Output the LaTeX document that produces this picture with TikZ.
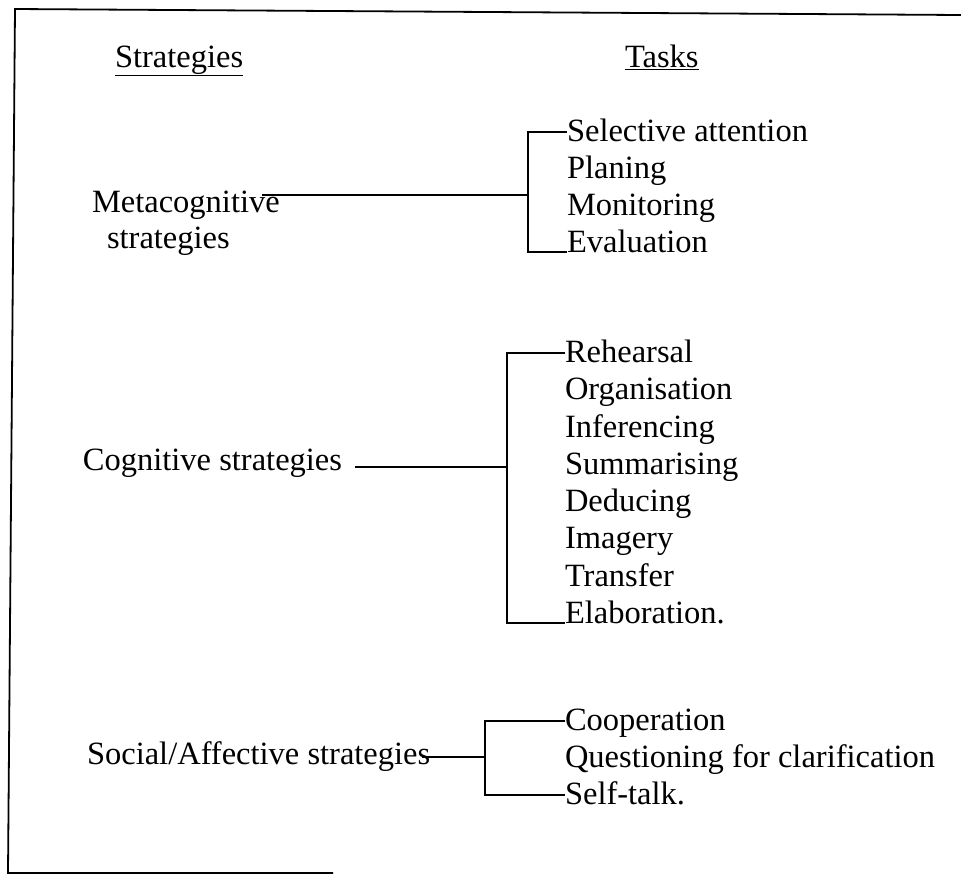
\documentclass[tikz,border=0pt]{standalone}
\usepackage{fontspec}
\setmainfont{Liberation Serif}
\begin{document}
\begin{tikzpicture}[x=1pt,y=-1pt,
  txt/.style={inner sep=0pt,outer sep=0pt,font=\fontsize{32.5}{36}\selectfont},
  task/.style={txt,anchor=base west},
  frameline/.style={line width=1.8pt},
  link/.style={line width=1.4pt}]
\useasboundingbox (0,0) rectangle (961,879);

% open frame round the table
\draw[frameline] (961,15) -- (15,9) -- (8,873) -- (333,873);

% column heads
\node[txt,anchor=base west] (hs) at (115,67) {\underline{Strategies}};
\node[txt,anchor=base west] (ht) at (625,67) {\underline{Tasks}};

% metacognitive strategies
\node[txt,anchor=base west,align=left] (meta) at (92,248)
  {Metacognitive\\\hspace*{15pt}strategies};
\node[task] (t11) at (567,141) {Selective attention};
\node[task] (t12) at (567,178) {Planing};
\node[task] (t13) at (567,215) {Monitoring};
\node[task] (t14) at (567,252) {Evaluation};
\coordinate (m0) at (262,195);
\coordinate (m1) at (528,195);
\draw[link] (m0) -- (m1);
\draw[link] (t11.west |- 0,132) -| (m1) |- (t14.base west);

% cognitive strategies
\node[txt,anchor=base east] (cog) at (342,470) {Cognitive strategies};
\node[task] (t21) at (565,362) {Rehearsal};
\node[task] (t22) at (565,399) {Organisation};
\node[task] (t23) at (565,437) {Inferencing};
\node[task] (t24) at (565,474) {Summarising};
\node[task] (t25) at (565,511) {Deducing};
\node[task] (t26) at (565,548) {Imagery};
\node[task] (t27) at (565,586) {Transfer};
\node[task] (t28) at (565,623) {Elaboration.};
\coordinate (c0) at (355,467);
\coordinate (c1) at (507,467);
\draw[link] (c0) -- (c1);
\draw[link] (t21.west |- 0,353) -| (c1) |- (t28.base west);

% social/affective strategies
\node[txt,anchor=base west] (soc) at (87,764) {Social/Affective strategies};
\node[task] (t31) at (565,730) {Cooperation};
\node[task] (t32) at (565,767) {Questioning for clarification};
\node[task] (t33) at (565,804) {Self-talk.};
\coordinate (s0) at ([xshift=-8pt]soc.east |- 0,757);
\coordinate (s1) at (485,757);
\draw[link] (s0) -- (s1);
\draw[link] (t31.west |- 0,721) -| (s1) |- (t33.west |- 0,795);
\end{tikzpicture}
\end{document}
